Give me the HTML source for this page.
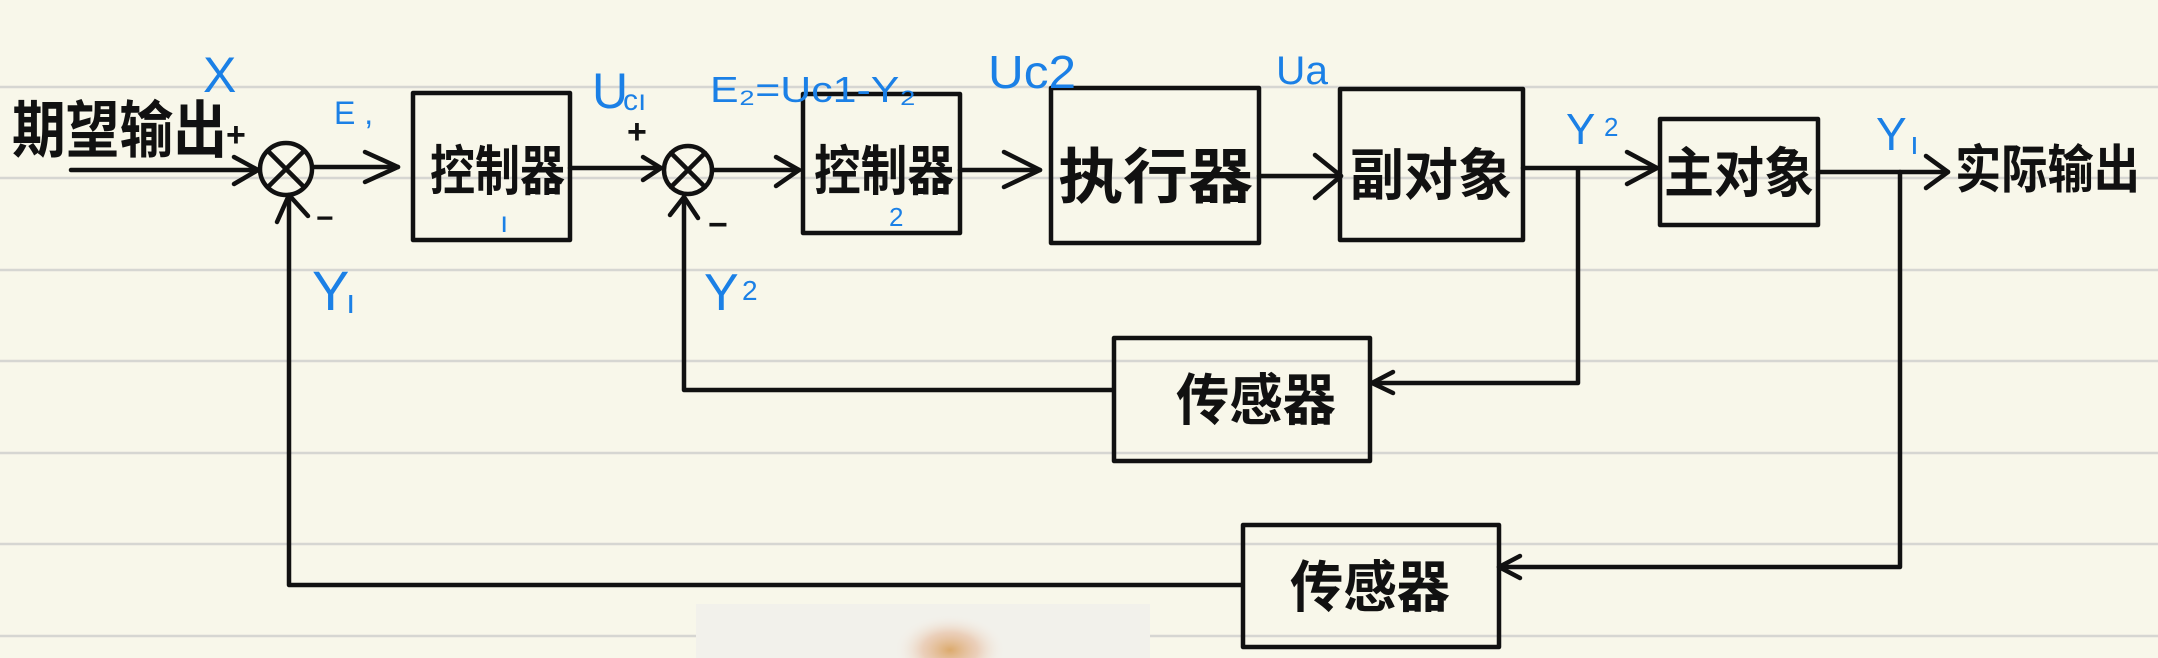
<!DOCTYPE html>
<html><head><meta charset="utf-8"><style>
html,body{margin:0;padding:0;background:#f8f7ea;}
svg{display:block}
.k{font-family:"Liberation Sans","Noto Sans CJK SC",sans-serif;fill:#111;font-weight:bold;}
.b{font-family:"Liberation Sans",sans-serif;fill:#1b80e6;}
</style></head><body>
<svg width="2158" height="658" viewBox="0 0 2158 658" xmlns="http://www.w3.org/2000/svg">
<defs>
<radialGradient id="bl" cx="0.5" cy="0.5" r="0.5">
<stop offset="0" stop-color="#d9a25e" stop-opacity="0.9"/>
<stop offset="0.5" stop-color="#e6b99a" stop-opacity="0.6"/>
<stop offset="1" stop-color="#f3eee6" stop-opacity="0"/>
</radialGradient>
</defs>
<rect width="2158" height="658" fill="#f8f7ea"/>
<g stroke="#d6d6d2" stroke-width="2.5">
<line x1="0" y1="87" x2="2158" y2="87"/>
<line x1="0" y1="178" x2="2158" y2="178"/>
<line x1="0" y1="270" x2="2158" y2="270"/>
<line x1="0" y1="361" x2="2158" y2="361"/>
<line x1="0" y1="453" x2="2158" y2="453"/>
<line x1="0" y1="544" x2="2158" y2="544"/>
<line x1="0" y1="636" x2="2158" y2="636"/>
</g>
<rect x="696" y="604" width="454" height="54" fill="#f2f1eb"/>
<ellipse cx="950" cy="650" rx="55" ry="35" fill="url(#bl)"/>
<g stroke="#111" stroke-width="4.5" fill="none" stroke-linecap="round" stroke-linejoin="round">
<line x1="71" y1="170" x2="258" y2="170"/>
<polyline points="234,157 258,170 234,184"/>
<circle cx="286" cy="169" r="26"/>
<line x1="268" y1="151" x2="304" y2="187"/><line x1="304" y1="151" x2="268" y2="187"/>
<line x1="313" y1="167" x2="398" y2="167"/>
<polyline points="365,152 398,167 365,182"/>
<rect x="413" y="93" width="157" height="147"/>
<line x1="570" y1="168" x2="661" y2="168"/>
<polyline points="643,157 661,168 643,180"/>
<circle cx="688" cy="170" r="24"/>
<line x1="671" y1="153" x2="705" y2="187"/><line x1="705" y1="153" x2="671" y2="187"/>
<line x1="712" y1="170" x2="799" y2="170"/>
<polyline points="776,157 799,170 776,186"/>
<rect x="803" y="94" width="157" height="139"/>
<line x1="960" y1="170" x2="1040" y2="170"/>
<polyline points="1004,152 1040,170 1004,187"/>
<rect x="1051" y="88" width="208" height="155"/>
<line x1="1259" y1="176" x2="1341" y2="176"/>
<polyline points="1315,155 1341,176 1315,198"/>
<rect x="1340" y="89" width="183" height="151"/>
<line x1="1523" y1="168" x2="1657" y2="168"/>
<polyline points="1627,152 1657,168 1627,184"/>
<rect x="1660" y="119" width="158" height="106"/>
<line x1="1818" y1="172" x2="1948" y2="172"/>
<polyline points="1926,156 1948,172 1926,188"/>
<polyline points="1578,170 1578,383 1372,383"/>
<polyline points="1393,372 1372,383 1393,393"/>
<rect x="1114" y="338" width="256" height="123"/>
<polyline points="1112,390 684,390 684,197"/>
<polyline points="670,215 684,197 698,218"/>
<polyline points="1900,172 1900,567 1499,567"/>
<polyline points="1520,556 1499,567 1520,578"/>
<rect x="1243" y="525" width="256" height="122"/>
<polyline points="1241,585 289,585 289,195"/>
<polyline points="277,222 289,195 308,216"/>
</g>
<g class="k">
<text x="12" y="152" font-size="62" textLength="215" lengthAdjust="spacingAndGlyphs">期望输出</text>
<text x="430" y="190" font-size="54" textLength="135" lengthAdjust="spacingAndGlyphs">控制器</text>
<text x="814" y="190" font-size="54" textLength="140" lengthAdjust="spacingAndGlyphs">控制器</text>
<text x="1058" y="198" font-size="60" textLength="195" lengthAdjust="spacingAndGlyphs">执行器</text>
<text x="1350" y="195" font-size="56" textLength="162" lengthAdjust="spacingAndGlyphs">副对象</text>
<text x="1664" y="192" font-size="54" textLength="150" lengthAdjust="spacingAndGlyphs">主对象</text>
<text x="1955" y="188" font-size="52" textLength="185" lengthAdjust="spacingAndGlyphs">实际输出</text>
<text x="1176" y="420" font-size="56" textLength="160" lengthAdjust="spacingAndGlyphs">传感器</text>
<text x="1290" y="607" font-size="56" textLength="160" lengthAdjust="spacingAndGlyphs">传感器</text>
<text x="226" y="146" font-size="34">+</text>
<text x="627" y="143" font-size="34">+</text>
<text x="316" y="228" font-size="30">−</text>
<text x="708" y="236" font-size="34">−</text>
</g>
<g class="b">
<text x="203" y="92" font-size="50">X</text>
<text x="334" y="124" font-size="32">E ,</text>
<text x="592" y="108" font-size="50">U</text><text x="623" y="110" font-size="30">cı</text>
<text x="710" y="102" font-size="36" textLength="206" lengthAdjust="spacingAndGlyphs">E₂=Uc1-Y₂</text>
<text x="988" y="88" font-size="46" textLength="88" lengthAdjust="spacingAndGlyphs">Uc2</text>
<text x="1276" y="84" font-size="40" textLength="52" lengthAdjust="spacingAndGlyphs">Ua</text>
<text x="500" y="232" font-size="30">ı</text>
<text x="889" y="226" font-size="26">2</text>
<text x="312" y="310" font-size="56">Y</text><text x="346" y="313" font-size="34">ı</text>
<text x="704" y="310" font-size="52">Y</text><text x="742" y="300" font-size="28">2</text>
<text x="1566" y="144" font-size="44">Y</text><text x="1604" y="136" font-size="26">2</text>
<text x="1876" y="150" font-size="46">Y</text><text x="1910" y="154" font-size="32">ı</text>
</g>
</svg>
</body></html>
